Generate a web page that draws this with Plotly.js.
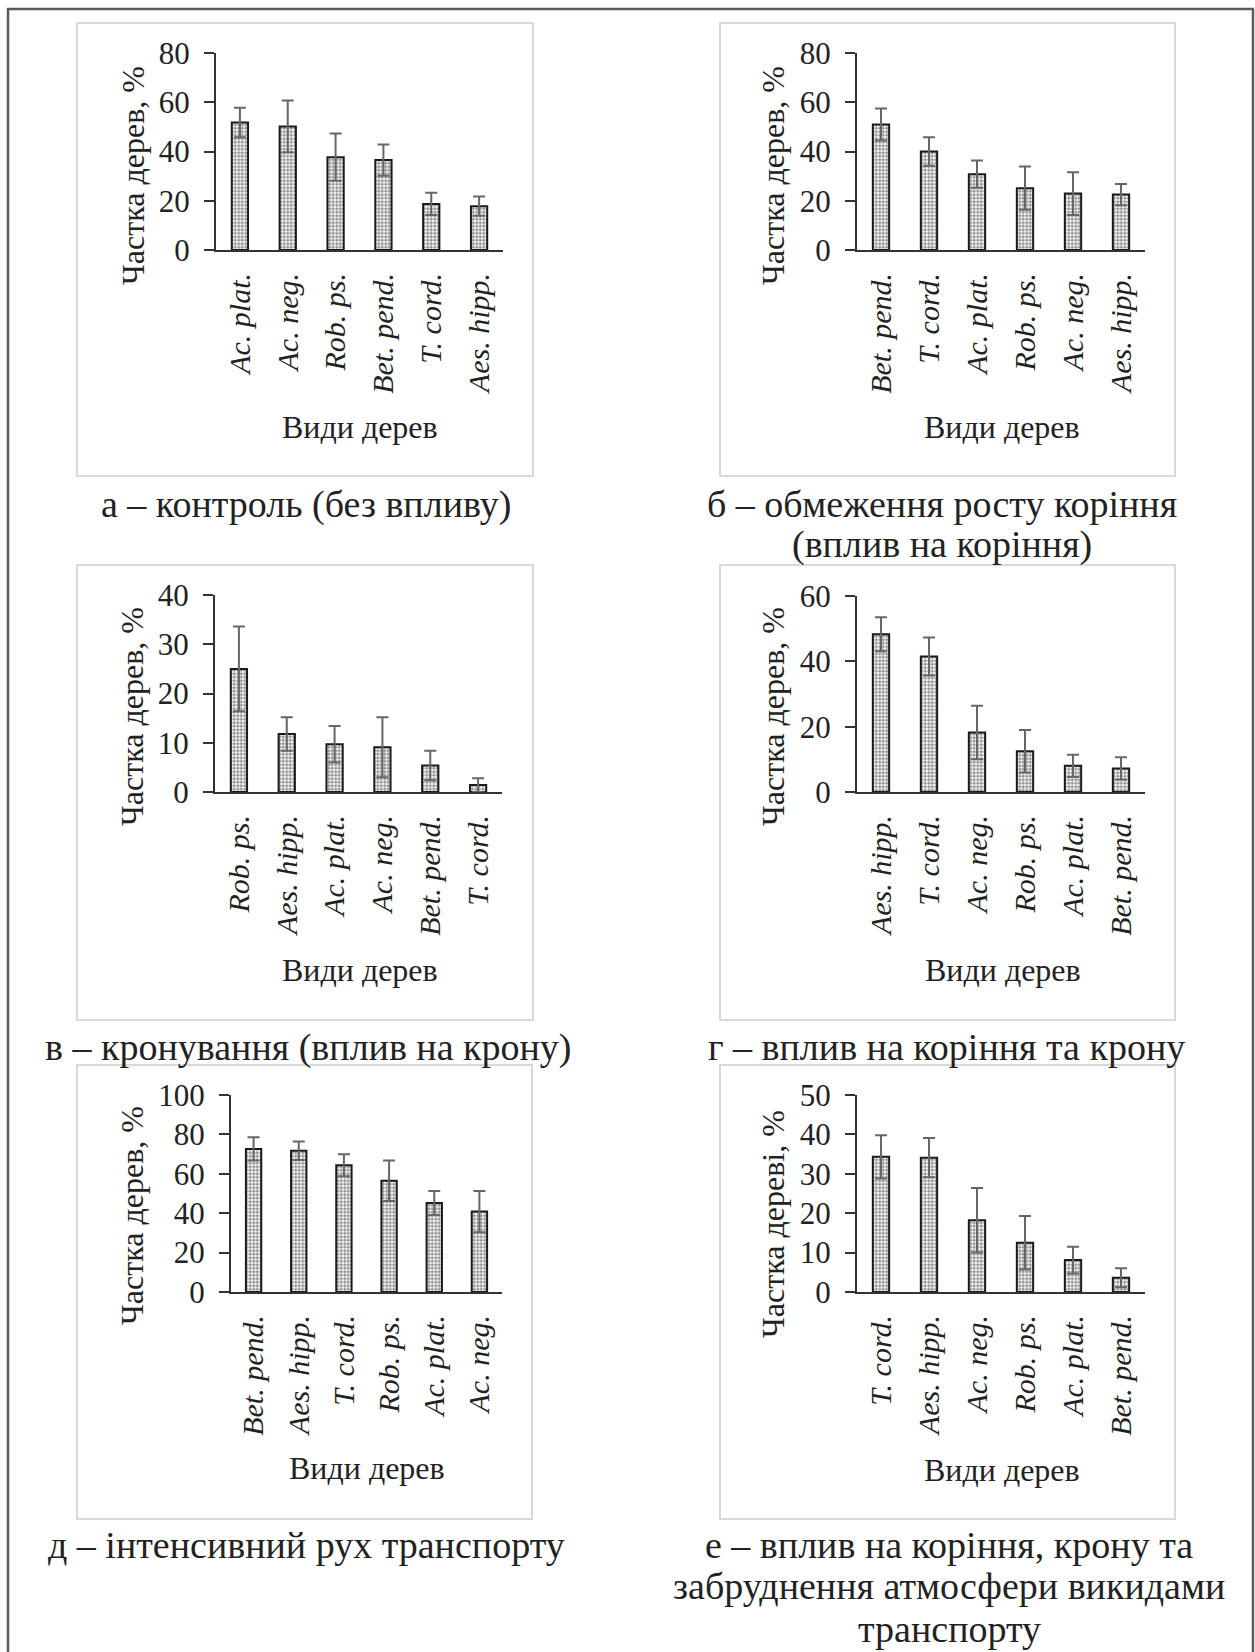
<!DOCTYPE html>
<html>
<head>
<meta charset="utf-8">
<script src="https://cdn.plot.ly/plotly-3.0.1.min.js"></script>
<style>html,body{margin:0;padding:0;background:#fff;}#chart{width:1255px;height:1652px;}</style>
</head>
<body>
<div id="chart"></div>
<script>
// ---- data ----
const catsA = ["Ac. plat.", "Ac. neg.", "Rob. ps.", "Bet. pend.", "T. cord.", "Aes. hipp."];
const valsA = [51.8, 50.2, 37.7, 36.5, 18.7, 17.8];
const errA  = [6.0, 10.5, 9.6, 6.3, 4.5, 3.9];

const catsB = ["Bet. pend.", "T. cord.", "Ac. plat.", "Rob. ps.", "Ac. neg.", "Aes. hipp."];
const valsB = [51.0, 40.0, 30.8, 25.1, 22.9, 22.5];
const errB  = [6.5, 5.8, 5.5, 8.8, 8.7, 4.3];

const catsC = ["Rob. ps.", "Aes. hipp.", "Ac. plat.", "Ac. neg.", "Bet. pend.", "T. cord."];
const valsC = [25.0, 11.8, 9.7, 9.1, 5.4, 1.4];
const errC  = [8.6, 3.4, 3.7, 6.1, 3.0, 1.4];

const catsD = ["Aes. hipp.", "T. cord.", "Ac. neg.", "Rob. ps.", "Ac. plat.", "Bet. pend."];
const valsD = [48.3, 41.5, 18.2, 12.5, 8.0, 7.2];
const errD  = [5.2, 5.8, 8.2, 6.5, 3.4, 3.4];

const catsE = ["Bet. pend.", "Aes. hipp.", "T. cord.", "Rob. ps.", "Ac. plat.", "Ac. neg."];
const valsE = [72.6, 71.7, 64.3, 56.5, 45.2, 40.8];
const errE  = [5.9, 4.7, 5.6, 10.3, 6.1, 10.5];

const catsF = ["T. cord.", "Aes. hipp.", "Ac. neg.", "Rob. ps.", "Ac. plat.", "Bet. pend."];
const valsF = [34.3, 34.1, 18.2, 12.5, 8.1, 3.6];
const errF  = [5.5, 5.0, 8.2, 6.8, 3.4, 2.4];

const yTitles = ["Частка дерев, %", "Частка дерев, %", "Частка дерев, %", "Частка дерев, %", "Частка дерев, %", "Частка дереві, %"];
const xTitle = "Види дерев";
const captions = [
  ["а – контроль (без впливу)"],
  ["б – обмеження росту коріння", "(вплив на коріння)"],
  ["в – кронування (вплив на крону)"],
  ["г – вплив на коріння та крону"],
  ["д – інтенсивний рух транспорту"],
  ["е – вплив на коріння, крону та", "забруднення атмосфери викидами", "транспорту"]
];

// ---- layout geometry (pixels) ----
const W = 1255, H = 1652;
const FONT = "Liberation Serif, Times New Roman, serif";
const px = x => x / W;
const py = y => 1 - y / H;

const panels = [
  {cats: catsA, vals: valsA, err: errA, range: [0, 80], dtick: 20, x0: 216, x1: 503, y0: 53, y1: 250, box: [77, 23, 533, 476], yt: [133, 176], xt: [360, 427], cap: [306, [504]]},
  {cats: catsB, vals: valsB, err: errB, range: [0, 80], dtick: 20, x0: 857, x1: 1145, y0: 53, y1: 250, box: [720, 23, 1175, 476], yt: [773, 176], xt: [1002, 427], cap: [942, [504, 545]]},
  {cats: catsC, vals: valsC, err: errC, range: [0, 40], dtick: 10, x0: 215, x1: 502, y0: 595, y1: 792, box: [77, 565, 533, 1020], yt: [132, 717], xt: [360, 970], cap: [308, [1047]]},
  {cats: catsD, vals: valsD, err: errD, range: [0, 60], dtick: 20, x0: 857, x1: 1145, y0: 596, y1: 792, box: [720, 565, 1175, 1020], yt: [773, 717], xt: [1003, 970], cap: [946, [1047]]},
  {cats: catsE, vals: valsE, err: errE, range: [0, 100], dtick: 20, x0: 231, x1: 502, y0: 1095, y1: 1292, box: [77, 1065, 532, 1519], yt: [132, 1216], xt: [367, 1468], cap: [306, [1545]]},
  {cats: catsF, vals: valsF, err: errF, range: [0, 50], dtick: 10, x0: 857, x1: 1145, y0: 1095, y1: 1292, box: [720, 1065, 1175, 1519], yt: [773, 1224], xt: [1002, 1470], cap: [949, [1545, 1586, 1629]]}
];

const traces = [];
const layout = {
  width: W, height: H,
  margin: {l: 0, r: 0, t: 0, b: 0},
  paper_bgcolor: "#fff", plot_bgcolor: "rgba(0,0,0,0)",
  showlegend: false,
  bargap: 0.66,
  font: {family: FONT, color: "#222"},
  shapes: [], annotations: []
};

// outer frame (left, top, right)
layout.shapes.push({type: "line", xref: "paper", yref: "paper", x0: px(8), x1: px(8), y0: py(9), y1: py(1660), line: {color: "#5a5a5a", width: 2.5}});
layout.shapes.push({type: "line", xref: "paper", yref: "paper", x0: px(7), x1: px(1254), y0: py(9), y1: py(9), line: {color: "#5a5a5a", width: 2.5}});
layout.shapes.push({type: "line", xref: "paper", yref: "paper", x0: px(1253), x1: px(1253), y0: py(9), y1: py(1660), line: {color: "#5a5a5a", width: 2.5}});

panels.forEach((p, i) => {
  const n = i === 0 ? "" : String(i + 1);
  traces.push({
    type: "bar",
    x: p.cats, y: p.vals,
    xaxis: "x" + n, yaxis: "y" + n,
    marker: {
      color: "#ffffff",
      line: {color: "#1a1a1a", width: 2},
      pattern: {shape: ".", fgcolor: "#222222", bgcolor: "#ffffff", size: 3.5, solidity: 0.6, fillmode: "overlay"}
    },
    error_y: {type: "data", array: p.err, visible: true, color: "#666666", thickness: 2, width: 6},
    hoverinfo: "skip"
  });
  layout["xaxis" + n] = {
    domain: [px(p.x0), px(p.x1)],
    anchor: "y" + n,
    type: "category",
    showline: true, linecolor: "#333", linewidth: 2,
    showgrid: false, zeroline: false,
    ticks: "",
    tickangle: -90,
    tickfont: {family: FONT, size: 30, color: "#222", style: "italic"},
    ticklabelstandoff: 9,
    fixedrange: true
  };
  layout["yaxis" + n] = {
    domain: [py(p.y1), py(p.y0)],
    anchor: "x" + n,
    range: p.range, dtick: p.dtick, tick0: 0,
    showline: true, linecolor: "#333", linewidth: 2,
    showgrid: false, zeroline: false,
    ticks: "outside", ticklen: 10, tickwidth: 2, tickcolor: "#333",
    tickfont: {family: FONT, size: 31, color: "#222"},
    ticklabelstandoff: 8,
    fixedrange: true
  };
  // panel box
  layout.shapes.push({type: "rect", xref: "paper", yref: "paper",
    x0: px(p.box[0]), x1: px(p.box[2]), y0: py(p.box[3]), y1: py(p.box[1]),
    line: {color: "#d9d9d9", width: 2}, layer: "below"});
  // y title
  layout.annotations.push({xref: "paper", yref: "paper", x: px(p.yt[0]), y: py(p.yt[1]),
    text: yTitles[i], textangle: -90, showarrow: false, xanchor: "center", yanchor: "middle",
    font: {family: FONT, size: 32, color: "#222"}});
  // x title
  layout.annotations.push({xref: "paper", yref: "paper", x: px(p.xt[0]), y: py(p.xt[1]),
    text: xTitle, showarrow: false, xanchor: "center", yanchor: "middle",
    font: {family: FONT, size: 32, color: "#222"}});
  // caption lines
  captions[i].forEach((line, k) => {
    layout.annotations.push({xref: "paper", yref: "paper", x: px(p.cap[0]), y: py(p.cap[1][k]),
      text: line, showarrow: false, xanchor: "center", yanchor: "middle", align: "center",
      font: {family: FONT, size: 38, color: "#222"}});
  });
});

Plotly.newPlot("chart", traces, layout, {displayModeBar: false, staticPlot: true});
</script>
</body>
</html>
